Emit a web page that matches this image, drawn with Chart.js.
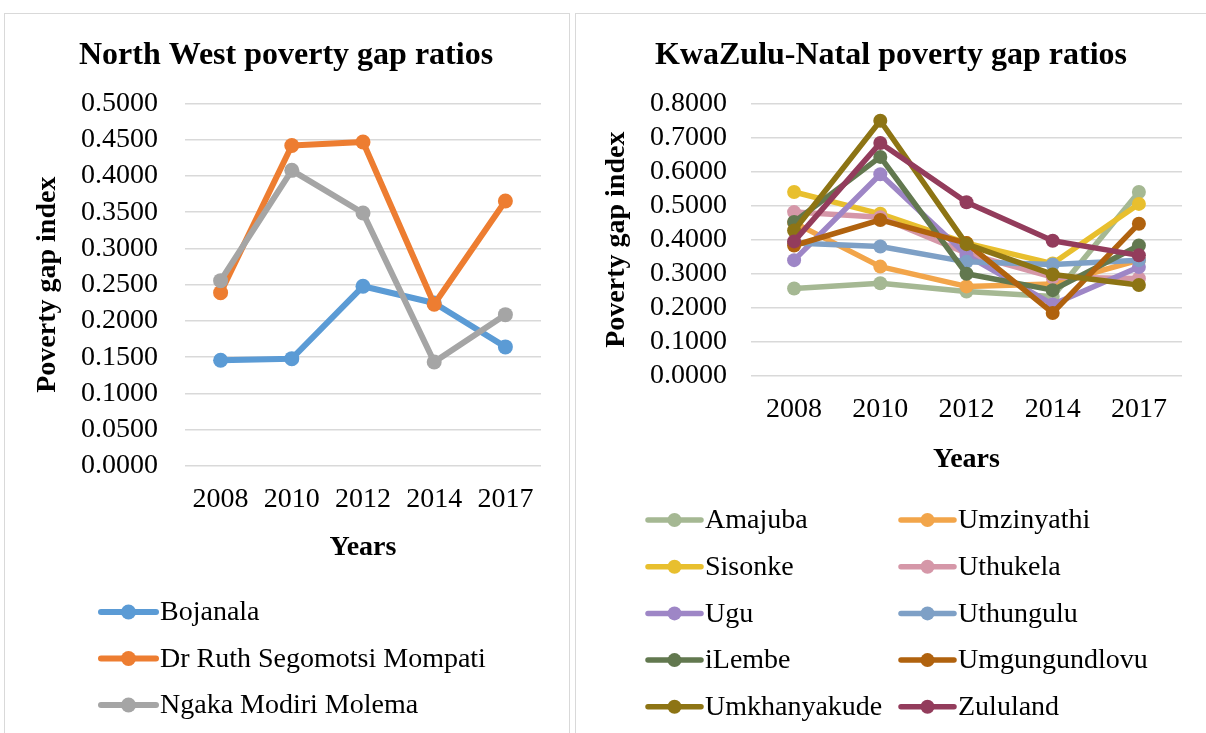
<!DOCTYPE html>
<html>
<head>
<meta charset="utf-8">
<script src="https://cdn.jsdelivr.net/npm/chart.js@4.4.1/dist/chart.umd.min.js"></script>
<style>
  body { margin: 0; background: #fff; width: 1206px; height: 733px; overflow: hidden; position: relative; }
  .panel { position: absolute; top: 13px; border: 1px solid #d9d9d9; box-sizing: border-box; height: 740px; }
  .box { position: absolute; top: 14px; }
</style>
</head>
<body>
<div class="panel" style="left:4px; width:566px;"></div>
<div class="panel" style="left:575px; width:640px;"></div>
<div class="box" style="left:5px; width:562px; height:719px;"><canvas id="nwChart"></canvas></div>
<div class="box" style="left:576px; width:630px; height:719px;"><canvas id="kznChart"></canvas></div>
<script>
/* ================= DATA ================= */
const years = ["2008", "2010", "2012", "2014", "2017"];

// North West districts
const bojanala   = [0.1458, 0.1480, 0.2478, 0.2248, 0.1642];
const drRuth     = [0.2390, 0.4420, 0.4468, 0.2230, 0.3654];
const ngaka      = [0.2556, 0.4077, 0.3489, 0.1435, 0.2087];

// KwaZulu-Natal districts
const amajuba       = [0.2570, 0.2720, 0.2480, 0.2330, 0.5400];
const umzinyathi    = [0.4500, 0.3210, 0.2630, 0.2700, 0.3400];
const sisonke       = [0.5400, 0.4760, 0.3900, 0.3300, 0.5050];
const uthukela      = [0.4810, 0.4660, 0.3600, 0.2900, 0.2860];
const ugu           = [0.3400, 0.5920, 0.3550, 0.2100, 0.3200];
const uthungulu     = [0.3900, 0.3800, 0.3350, 0.3270, 0.3400];
const ilembe        = [0.4520, 0.6430, 0.3000, 0.2520, 0.3830];
const umgungundlovu = [0.3830, 0.4580, 0.3900, 0.1850, 0.4470];
const umkhanyakude  = [0.4270, 0.7490, 0.3870, 0.2980, 0.2670];
const zululand      = [0.3950, 0.6840, 0.5100, 0.3970, 0.3540];

/* ================= STYLE ================= */
const FONT = "'Liberation Serif', 'Times New Roman', serif";
const GRID = "#d9d9d9";

Chart.defaults.font.family = FONT;
Chart.defaults.color = "#000";

/* legend drawn like Excel: line + marker, fixed rows/columns */
const lineLegend = {
    id: "lineLegend",
    afterDraw(chart, args, opts) {
        const ctx = chart.ctx;
        ctx.save();
        ctx.font = `${opts.fontSize}px ${FONT}`;
        ctx.textBaseline = "middle";
        ctx.textAlign = "left";
        chart.data.datasets.forEach((ds, i) => {
            const col = i % opts.cols;
            const row = Math.floor(i / opts.cols);
            const x = opts.x + col * opts.colW;
            const y = opts.y + row * opts.rowH;
            ctx.strokeStyle = ds.borderColor;
            ctx.lineWidth = ds.borderWidth;
            ctx.lineCap = "round";
            ctx.beginPath();
            ctx.moveTo(x, y);
            ctx.lineTo(x + opts.lineLen, y);
            ctx.stroke();
            ctx.fillStyle = ds.borderColor;
            ctx.beginPath();
            ctx.arc(x + opts.lineLen / 2, y, ds.pointRadius, 0, Math.PI * 2);
            ctx.fill();
            ctx.fillStyle = "#000";
            ctx.fillText(ds.label, x + opts.lineLen + 4, y + 1);
        });
        ctx.restore();
    }
};

function makeSeries(names, values, colors, width, radius) {
    return names.map((name, i) => ({
        label: name,
        data: values[i],
        borderColor: colors[i],
        backgroundColor: colors[i],
        pointBackgroundColor: colors[i],
        pointBorderWidth: 0,
        borderWidth: width,
        borderJoinStyle: "round",
        pointRadius: radius,
        tension: 0,
        order: names.length - i   // later series on top, like Excel
    }));
}

function makeOptions(cfg) {
    return {
        responsive: true,
        maintainAspectRatio: false,
        animation: false,
        layout: { padding: { left: cfg.padLeft, right: cfg.padRight, top: 0, bottom: cfg.padBottom } },
        plugins: {
            legend: { display: false },
            tooltip: { enabled: false },
            title: {
                display: true,
                text: cfg.title,
                font: { size: 32, weight: "bold" },
                padding: { top: 23, bottom: 28 }
            },
            lineLegend: cfg.legend
        },
        scales: {
            x: {
                offset: true,
                grid: { display: false, drawTicks: false },
                border: { display: false },
                ticks: { font: { size: 28 }, padding: 17, maxRotation: 0, autoSkip: false },
                title: { display: true, text: "Years", font: { size: 28, weight: "bold" }, padding: 0 },
                afterFit: (s) => { s.height = cfg.xHeight; }
            },
            y: {
                min: 0,
                max: cfg.max,
                grid: { color: GRID, lineWidth: 1.5, drawTicks: false },
                border: { display: false },
                ticks: {
                    stepSize: cfg.step,
                    autoSkip: false,
                    font: { size: 28 },
                    padding: cfg.tickPad,
                    callback: (v) => v.toFixed(4)
                },
                title: { display: true, text: "Poverty gap index", font: { size: 28, weight: "bold" }, padding: 0 },
                afterFit: (s) => { s.width = cfg.yWidth; }
            }
        }
    };
}

/* ================= NORTH WEST ================= */
new Chart(document.getElementById("nwChart"), {
    type: "line",
    data: {
        labels: years,
        datasets: makeSeries(
            ["Bojanala", "Dr Ruth Segomotsi Mompati", "Ngaka Modiri Molema"],
            [bojanala, drRuth, ngaka],
            ["#5b9bd5", "#ed7d31", "#a5a5a5"],
            6, 7.5
        )
    },
    options: makeOptions({
        title: "North West poverty gap ratios",
        max: 0.5, step: 0.05,
        padLeft: 26, padRight: 26, padBottom: 168, xHeight: 99,
        yWidth: 154, tickPad: 27,
        legend: { x: 96, y: 598, rowH: 46.5, cols: 1, colW: 0, lineLen: 55, fontSize: 28 }
    }),
    plugins: [lineLegend]
});

/* ================= KWAZULU-NATAL ================= */
new Chart(document.getElementById("kznChart"), {
    type: "line",
    data: {
        labels: years,
        datasets: makeSeries(
            ["Amajuba", "Umzinyathi", "Sisonke", "Uthukela", "Ugu",
             "Uthungulu", "iLembe", "Umgungundlovu", "Umkhanyakude", "Zululand"],
            [amajuba, umzinyathi, sisonke, uthukela, ugu,
             uthungulu, ilembe, umgungundlovu, umkhanyakude, zululand],
            ["#a5b893", "#f2a54a", "#e8bf2e", "#d597a8", "#9e86c6",
             "#7ea0c6", "#62784f", "#b0620e", "#8d7414", "#933c5c"],
            5.5, 7
        )
    },
    options: makeOptions({
        title: "KwaZulu-Natal poverty gap ratios",
        max: 0.8, step: 0.1,
        padLeft: 24, padRight: 24, padBottom: 256, xHeight: 101,
        yWidth: 151, tickPad: 24,
        legend: { x: 72, y: 506, rowH: 46.7, cols: 2, colW: 253, lineLen: 53, fontSize: 28 }
    }),
    plugins: [lineLegend]
});
</script>
</body>
</html>
